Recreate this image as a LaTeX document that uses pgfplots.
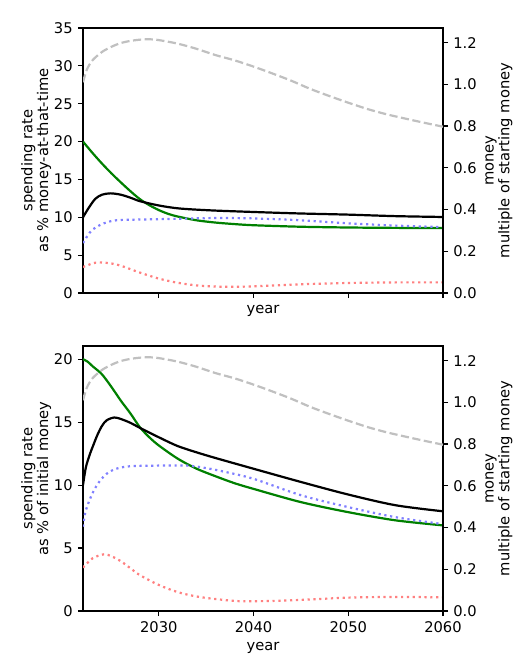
\documentclass[border=0pt]{standalone}
\usepackage{pgfplots}
\pgfplotsset{compat=1.18}
\usepackage{fontspec}
\setmainfont{DejaVu Sans}
\definecolor{mgreen}{RGB}{0,128,0}
\definecolor{mblue}{RGB}{128,128,255}
\definecolor{mred}{RGB}{255,128,128}
\definecolor{mgrey}{RGB}{192,192,192}
\pgfplotsset{
  base/.style={
    scale only axis, width=244.8pt, height=180.2pt,
    xmin=2022, xmax=2060,
    tick align=outside, major tick length=3.5pt,
    every tick/.style={black, line width=0.8pt},
    axis line style={line width=0.8pt},
    /pgf/number format/assume math mode=true,
    /pgf/number format/1000 sep={},
    font=\fontsize{10}{12}\selectfont,
    ticklabel style={font=\fontsize{10}{12}\selectfont},
    label style={font=\fontsize{10}{9.2}\selectfont},
  },
  leftax/.style={base, xtick={2030,2040,2050,2060}, xtick pos=bottom, ytick pos=left,
    ylabel style={align=center}, ylabel shift=-5pt},
  rightax/.style={base, axis x line=none, axis y line*=right, ymin=0, ymax=1.27,
    ytick={0,0.2,0.4,0.6,0.8,1.0,1.2},
    yticklabel style={/pgf/number format/.cd, fixed, fixed zerofill, precision=1},
    ylabel={money\\multiple of starting money}, ylabel style={align=center}, ylabel shift=-1pt},
  ln/.style={line width=1.5pt, smooth},
  dotb/.style={ln, mblue, dash pattern=on 1.5pt off 2.475pt},
  dotr/.style={ln, mred, dash pattern=on 1.5pt off 2.475pt},
  dashg/.style={ln, mgrey, dash pattern=on 5.55pt off 2.4pt},
}
\pgfplotstableread{
x y
2022 1.01
2022.4 1.07
2023 1.115
2024 1.155
2025 1.18
2026 1.198
2027 1.208
2028 1.214
2029 1.216
2030 1.212
2032 1.195
2034 1.17
2036 1.14
2038 1.115
2040 1.085
2042 1.052
2044 1.017
2046 0.978
2048 0.944
2050 0.912
2052 0.882
2054 0.857
2056 0.836
2058 0.816
2060 0.797
}\money
\begin{document}
\begin{tikzpicture}
\path[use as bounding box] (0pt,0pt) rectangle (361.76pt,453.56pt);
\coordinate (T) at (56.44pt,434.52pt);
\coordinate (B) at (56.44pt,218.28pt);
% ---------- top panel ----------
\begin{axis}[leftax, at={(T)}, anchor=north west,
  ymin=0, ymax=35, ytick={0,5,...,35}, xticklabels={},
  xlabel={year}, xlabel style={at={(axis description cs:0.5,0)}, anchor=north, yshift=-5pt},
  ylabel={spending rate\\as \% money-at-that-time}]
\addplot[ln, mgreen] coordinates {(2022,20.0) (2023,18.5) (2024,17.1) (2025,15.8) (2026,14.6) (2027,13.45) (2028,12.4) (2029,11.6) (2030,10.95) (2031,10.45) (2032,10.1) (2034,9.6) (2036,9.3) (2038,9.1) (2040,8.95) (2045,8.75) (2050,8.65) (2055,8.6) (2060,8.58)};
\addplot[ln, black] coordinates {(2022,10.0) (2022.6,11.24) (2023.3,12.44) (2024,12.98) (2024.9,13.16) (2026,12.98) (2027.2,12.5) (2028,12.13) (2030,11.56) (2032.2,11.16) (2035.7,10.9) (2040.7,10.67) (2045,10.5) (2050,10.35) (2055,10.15) (2060,10.04)};
\addplot[dotb] coordinates {(2022,6.6) (2022.5,7.6) (2023,8.36) (2024,9.1) (2025,9.5) (2026,9.65) (2028,9.7) (2032,9.8) (2036,9.9) (2040,9.85) (2045,9.6) (2050,9.2) (2055,8.9) (2060,8.7)};
\addplot[dotr] coordinates {(2022,3.43) (2023,3.9) (2023.7,4.05) (2025,3.9) (2026,3.6) (2027,3.15) (2028,2.7) (2030,1.9) (2032,1.35) (2034,1.0) (2036,0.85) (2038,0.82) (2040,0.88) (2045,1.15) (2050,1.32) (2055,1.4) (2060,1.4)};
\end{axis}
\begin{axis}[rightax, at={(T)}, anchor=north west]
\addplot[dashg] table {\money};
\end{axis}
% ---------- bottom panel ----------
\begin{axis}[leftax, at={(B)}, anchor=north west,
  ymin=0, ymax=21.05, ytick={0,5,10,15,20},
  xlabel={year}, ylabel={spending rate\\as \% of initial money}]
\addplot[ln, mgreen] coordinates {(2022,20.0) (2022.5,19.8) (2023,19.45) (2024,18.8) (2025,17.8) (2026,16.7) (2027,15.7) (2028,14.6) (2029,13.8) (2030,13.15) (2032,12.1) (2034,11.3) (2036,10.7) (2038,10.15) (2040,9.7) (2045,8.65) (2050,7.85) (2055,7.2) (2060,6.8)};
\addplot[ln, black] coordinates {(2022,10.0) (2022.3,11.4) (2022.7,12.4) (2023,13.0) (2023.5,13.95) (2024,14.7) (2024.5,15.15) (2025.3,15.37) (2026,15.25) (2027,14.95) (2028,14.55) (2030,13.8) (2032,13.1) (2034,12.6) (2036,12.15) (2040,11.3) (2045,10.25) (2050,9.25) (2055,8.4) (2060,7.92)};
\addplot[dotb] coordinates {(2022,6.7) (2022.3,8.0) (2023,9.35) (2023.7,10.25) (2024.5,10.9) (2025.5,11.3) (2027,11.5) (2030,11.55) (2033,11.55) (2035,11.35) (2037,11.05) (2040,10.5) (2045,9.2) (2050,8.25) (2055,7.45) (2060,6.9)};
\addplot[dotr] coordinates {(2022,3.45) (2023,4.18) (2024.2,4.5) (2025,4.35) (2026,3.95) (2027,3.4) (2028,2.85) (2030,2.07) (2032,1.5) (2034,1.15) (2036,0.95) (2038.5,0.78) (2042,0.8) (2045,0.88) (2050,1.06) (2055,1.12) (2060,1.08)};
\end{axis}
\begin{axis}[rightax, at={(B)}, anchor=north west]
\addplot[dashg] table {\money};
\end{axis}
\end{tikzpicture}
\end{document}
